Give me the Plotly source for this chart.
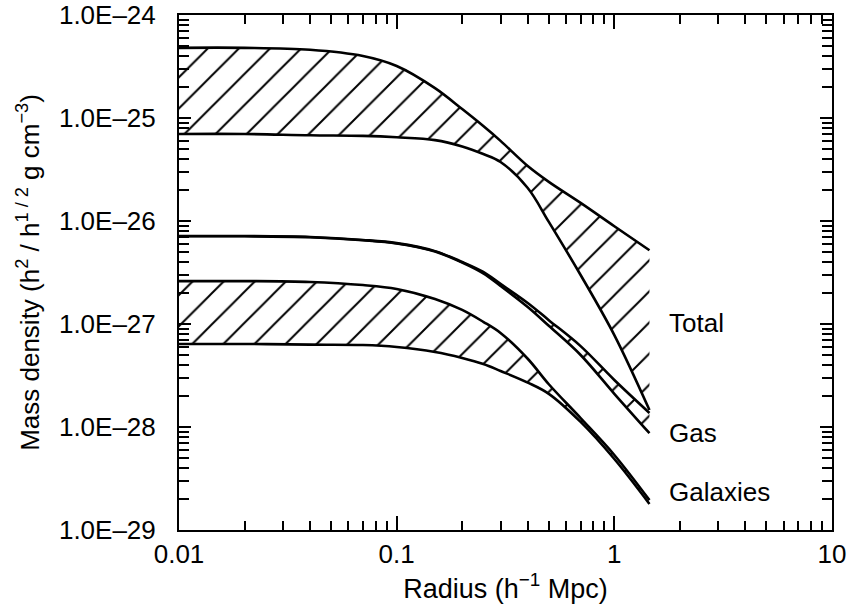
import math
import plotly.graph_objects as go

# Radii (h^-1 Mpc) at which the density profiles are sampled
radius = [0.01, 0.02, 0.04, 0.07, 0.1, 0.15, 0.2, 0.25, 0.3, 0.4, 0.5, 0.7, 1.0, 1.45]

# Mass density profiles (h^2 / h^1/2 g cm^-3): upper and lower bounds of each band
total_upper = [4.8e-25, 4.8e-25, 4.6e-25, 4.0e-25, 3.2e-25, 1.95e-25, 1.22e-25, 8.35e-26,
               6.0e-26, 3.42e-26, 2.4e-26, 1.5e-26, 8.9e-27, 5.2e-27]
total_lower = [7.0e-26, 7.0e-26, 6.8e-26, 6.7e-26, 6.5e-26, 6.1e-26, 5.3e-26, 4.47e-26,
               3.74e-26, 2.09e-26, 9.8e-27, 2.99e-27, 7.8e-28, 1.46e-28]
gas_upper = [7.15e-27, 7.15e-27, 7.0e-27, 6.55e-27, 6.1e-27, 5.1e-27, 4.0e-27, 3.2e-27,
             2.45e-27, 1.6e-27, 1.09e-27, 6.1e-28, 2.86e-28, 1.37e-28]
gas_lower = [7.1e-27, 7.1e-27, 6.95e-27, 6.5e-27, 6.05e-27, 5.05e-27, 3.95e-27, 3.1e-27,
             2.34e-27, 1.46e-27, 9.6e-28, 5.0e-28, 2.1e-28, 8.7e-29]
gal_upper = [2.61e-27, 2.61e-27, 2.56e-27, 2.39e-27, 2.19e-27, 1.75e-27, 1.37e-27, 1.05e-27,
             8.18e-28, 4.6e-28, 2.6e-28, 1.22e-28, 5.35e-29, 1.95e-29]
gal_lower = [6.4e-28, 6.4e-28, 6.3e-28, 6.25e-28, 5.98e-28, 5.35e-28, 4.68e-28, 4.09e-28,
             3.5e-28, 2.7e-28, 2.1e-28, 1.12e-28, 4.89e-29, 1.79e-29]

band_names = ["Total", "Gas", "Galaxies"]
bands = [(total_lower, total_upper), (gas_lower, gas_upper), (gal_lower, gal_upper)]
label_r = 1.75
label_rho = [1.02e-27, 8.75e-29, 2.34e-29]

y_ticks = [1e-24, 1e-25, 1e-26, 1e-27, 1e-28, 1e-29]
y_tick_text = ["1.0E\u201324", "1.0E\u201325", "1.0E\u201326", "1.0E\u201327", "1.0E\u201328", "1.0E\u201329"]
x_ticks = [0.01, 0.1, 1, 10]
x_tick_text = ["0.01", "0.1", "1", "10"]

FONT = "Liberation Sans, Arial, Helvetica, sans-serif"
line_style = dict(color="black", width=2.6, shape="spline", smoothing=1.0)

fig = go.Figure()
for name, (lo, hi) in zip(band_names, bands):
    fig.add_trace(go.Scatter(x=radius, y=lo, mode="lines", line=line_style,
                             showlegend=False, hoverinfo="skip"))
    fig.add_trace(go.Scatter(x=radius, y=hi, mode="lines", line=line_style,
                             fill="tonexty", fillcolor="rgba(0,0,0,0)",
                             fillpattern=dict(shape="/", size=22, solidity=0.09,
                                              fgcolor="black", fgopacity=1,
                                              bgcolor="rgba(0,0,0,0)", fillmode="overlay"),
                             name=name, showlegend=False, hoverinfo="skip"))

# band labels; annotation coordinates on log axes are given as log10 values
for name, rho in zip(band_names, label_rho):
    fig.add_annotation(x=math.log10(label_r), xref="x", y=math.log10(rho), yref="y",
                       text=name, showarrow=False, xanchor="left", yanchor="middle",
                       font=dict(family=FONT, size=26, color="black"))

axis_common = dict(showgrid=False, zeroline=False, showline=True, linecolor="black",
                   linewidth=2, mirror="allticks", ticks="inside", tickcolor="black",
                   tickwidth=1.5, automargin=False,
                   tickfont=dict(family=FONT, size=26, color="black"))

fig.update_xaxes(type="log", range=[-2, 1], tickvals=x_ticks, ticktext=x_tick_text,
                 ticklen=14, ticklabelstandoff=0,
                 minor=dict(ticks="inside", ticklen=9, tickcolor="black", tickwidth=1.5,
                            dtick="D1", showgrid=False),
                 title=dict(text="Radius (h<sup>\u22121</sup> Mpc)", standoff=8,
                            font=dict(family=FONT, size=27, color="black")),
                 **axis_common)
fig.update_yaxes(type="log", range=[-29, -24], tickvals=y_ticks, ticktext=y_tick_text,
                 ticklen=12, ticklabelstandoff=16,
                 minor=dict(ticks="inside", ticklen=10, tickcolor="black", tickwidth=1.5,
                            dtick="D1", showgrid=False),
                 title=dict(text="Mass density (h<sup>2</sup> / h<sup>1 / 2</sup> g cm<sup>\u22123</sup>)",
                            standoff=12, font=dict(family=FONT, size=26, color="black")),
                 **axis_common)

fig.update_layout(width=851, height=613, margin=dict(l=179, r=19, t=15, b=83),
                  plot_bgcolor="white", paper_bgcolor="white",
                  font=dict(family=FONT, size=26, color="black"))

fig.write_html("out.html")
